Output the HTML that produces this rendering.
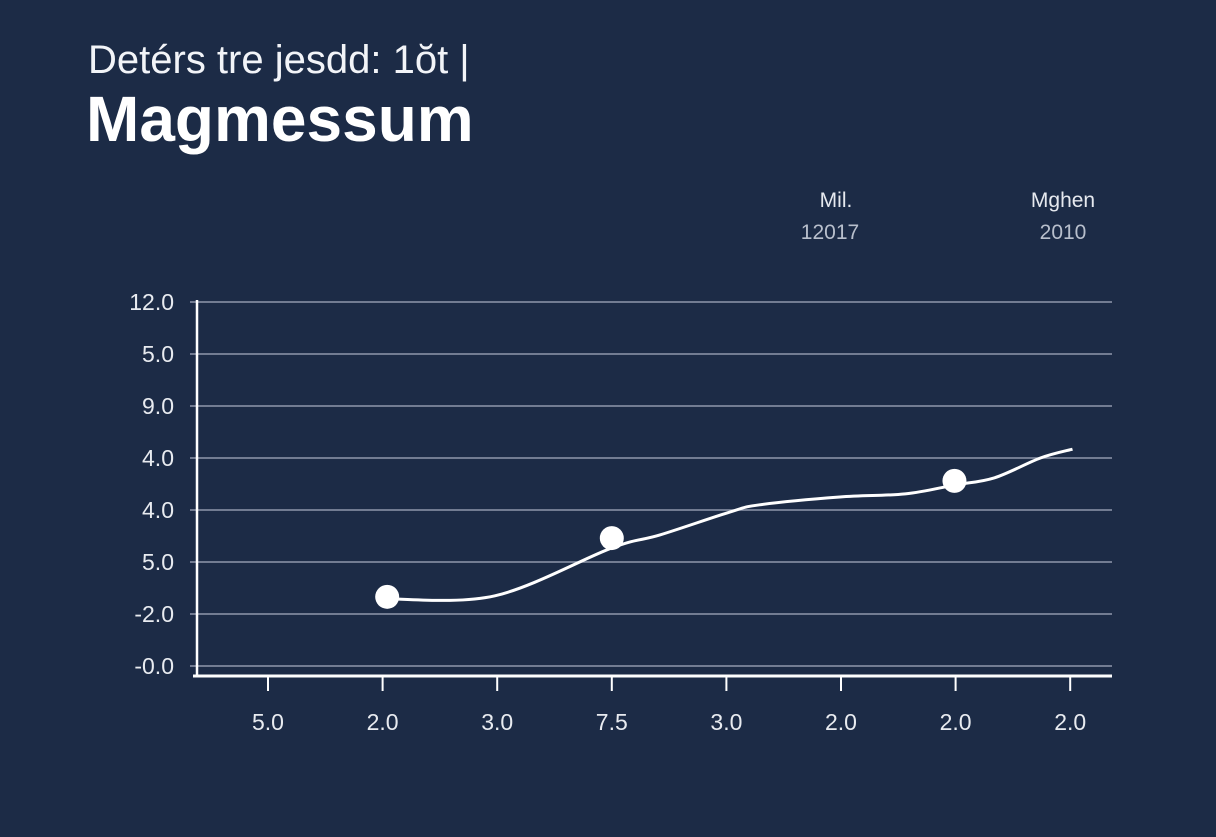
<!DOCTYPE html>
<html><head><meta charset="utf-8"><style>
body{margin:0;width:1216px;height:832px;background:#1c2b46;overflow:hidden;font-family:"Liberation Sans",sans-serif;color:#fff}
</style></head><body>
<svg width="1216" height="832">
<text x="88" y="73" font-size="40" fill="#f2f4f8">Detérs tre jesdd: 1ŏt |</text>
<text x="86" y="141" font-size="64" font-weight="bold" fill="#fff">Magmessum</text>
<text x="836" y="207" font-size="21" fill="#e6e9ef" text-anchor="middle">Mil.</text>
<text x="830" y="239" font-size="21" fill="#b8bfcc" text-anchor="middle">12017</text>
<text x="1063" y="207" font-size="21" fill="#e6e9ef" text-anchor="middle">Mghen</text>
<text x="1063" y="239" font-size="21" fill="#b8bfcc" text-anchor="middle">2010</text>
<g id="grid"></g><g id="axes"></g><g id="series"></g>
</svg>
<script>
const yTickLabels=["-0.0","-2.0","5.0","4.0","4.0","9.0","5.0","12.0"];
const xTickLabels=["5.0","2.0","3.0","7.5","3.0","2.0","2.0","2.0"];
const lineX=[1.04,1.98,3.0,3.42,4.03,4.29,4.99,5.56,5.99,6.34,6.74,7.02];
const lineY=[1.29,1.35,2.27,2.52,2.96,3.1,3.25,3.31,3.48,3.62,4.0,4.17];
const markerX=[1.04,3.0,5.99];
const markerY=[1.33,2.46,3.56];
const NS="http://www.w3.org/2000/svg";
function xs(i){return 268+i*114.6;}
function ys(v){return 666-v*52;}
function mk(t,a,p){const e=document.createElementNS(NS,t);for(const k in a)e.setAttribute(k,a[k]);p.appendChild(e);return e;}
const grid=document.getElementById('grid'),axes=document.getElementById('axes'),ser=document.getElementById('series');
yTickLabels.forEach((l,i)=>{
 const g=mk('line',{x1:190,x2:1112,y1:ys(i),y2:ys(i),stroke:'#8e98ab','stroke-width':1.5},grid);
 
 
 const t=mk('text',{x:174,y:ys(i)+8,'font-size':23,fill:'#e8ebf0','text-anchor':'end'},axes);
 t.textContent=l;
 
 
});
const ya=mk('line',{x1:197,x2:197,y1:300,y2:677,stroke:'#fff','stroke-width':2.5},axes);


const xa=mk('line',{x1:193,x2:1112,y1:676,y2:676,stroke:'#fff','stroke-width':3},axes);


xTickLabels.forEach((l,i)=>{
 const tk=mk('line',{x1:xs(i),x2:xs(i),y1:676,y2:691,stroke:'#fff','stroke-width':2},axes);
 
 
 const t=mk('text',{x:xs(i),y:730,'font-size':23,fill:'#e8ebf0','text-anchor':'middle'},axes);
 t.textContent=l;
 
 
});
let pts=lineX.map((x,i)=>[xs(x),ys(lineY[i])]);
let d='M'+pts[0][0]+','+pts[0][1];
for(let i=1;i<pts.length;i++){const p0=pts[Math.max(0,i-2)],p1=pts[i-1],p2=pts[i],p3=pts[Math.min(pts.length-1,i+1)];
 d+=' C'+(p1[0]+(p2[0]-p0[0])/6)+','+(p1[1]+(p2[1]-p0[1])/6)+' '+(p2[0]-(p3[0]-p1[0])/6)+','+(p2[1]-(p3[1]-p1[1])/6)+' '+p2[0]+','+p2[1];}
const path=mk('path',{d:d,fill:'none',stroke:'#fff','stroke-width':3},ser);


markerX.forEach((x,i)=>{
 const c=mk('circle',{cx:xs(x),cy:ys(markerY[i]),r:12,fill:'#fff'},ser);
 
 
});
</script>
</body></html>
